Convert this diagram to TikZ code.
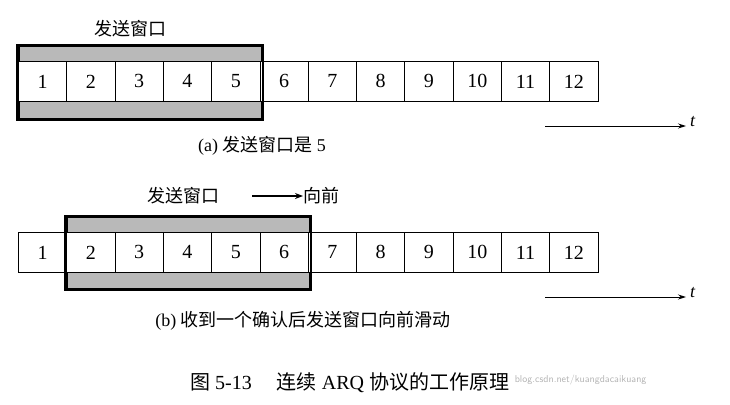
\documentclass[tikz,border=0pt]{standalone}
\usepackage{fontspec}
\setmainfont{Liberation Serif}
\newfontfamily\cjk{Noto Sans CJK SC}
\usetikzlibrary{arrows.meta}
\begin{document}
\begin{tikzpicture}[x=1pt,y=-1pt,
  cell/.style={draw,line width=0.8pt,minimum width=48.3pt,minimum height=40pt,inner sep=0pt,anchor=north west,font=\fontsize{20}{22}\selectfont},
  win/.style={draw,line width=2.2pt,fill=gray!55,inner sep=0pt,anchor=north west},
  lbl/.style={font=\fontsize{18}{22}\selectfont,inner sep=0pt},
  tarr/.style={-{Stealth[length=8pt,width=5pt]},line width=0.9pt}]
\useasboundingbox (0,0) rectangle (730,404);
% row a
\node[win,minimum width=243pt,minimum height=73pt] (wa) at (17.5,45) {};
\foreach \i in {1,...,12}{
  \node[cell,fill=white] (a\i) at ({18+(\i-1)*48.3},61) {\i};
}
\draw[line width=2.2pt] (wa.north west) rectangle (wa.south east);
\node[lbl] (ta) at (130,29) {\cjk 发送窗口};
\node[lbl] (ca) at (262,146) {(a) {\cjk 发送窗口是} 5};
\coordinate (ta1) at (545,126); \coordinate (ta2) at (686,126);
\draw[tarr] (ta1) -- (ta2);
\node[lbl,font=\fontsize{18}{20}\selectfont\itshape,anchor=west] (tta) at (690,122) {t};
% row b
\node[win,minimum width=243pt,minimum height=72pt] (wb) at (65.5,216) {};
\foreach \i in {1,...,12}{
  \node[cell,fill=white] (b\i) at ({18+(\i-1)*48.3},232) {\i};
}
\draw[line width=2.2pt] (wb.north west) rectangle (wb.south east);
\node[lbl] (tb) at (183,196) {\cjk 发送窗口};
\node[lbl,anchor=west] (fw) at (303,196) {\cjk 向前};
\coordinate (fa) at (252,196);
\draw[-{Stealth[length=8pt,width=6pt]},line width=1.6pt] (fa) -- (fw.west);
\node[lbl] (cb) at (303,321) {(b) {\cjk 收到一个确认后发送窗口向前滑动}};
\coordinate (tb1) at (545,297); \coordinate (tb2) at (686,297);
\draw[tarr] (tb1) -- (tb2);
\node[lbl,font=\fontsize{18}{20}\selectfont\itshape,anchor=west] (ttb) at (690,293) {t};
% caption
\node[lbl,font=\fontsize{20}{24}\selectfont,anchor=west] (cap) at (190,383) {{\cjk 图} 5-13\quad\ {\cjk 连续} ARQ {\cjk 协议的工作原理}};
\node[font=\fontsize{10}{12}\selectfont\sffamily,text=gray!60,anchor=west] (wm) at ([xshift=2pt,yshift=3pt]cap.east) {blog.csdn.net/kuangdacaikuang};
\end{tikzpicture}
\end{document}
